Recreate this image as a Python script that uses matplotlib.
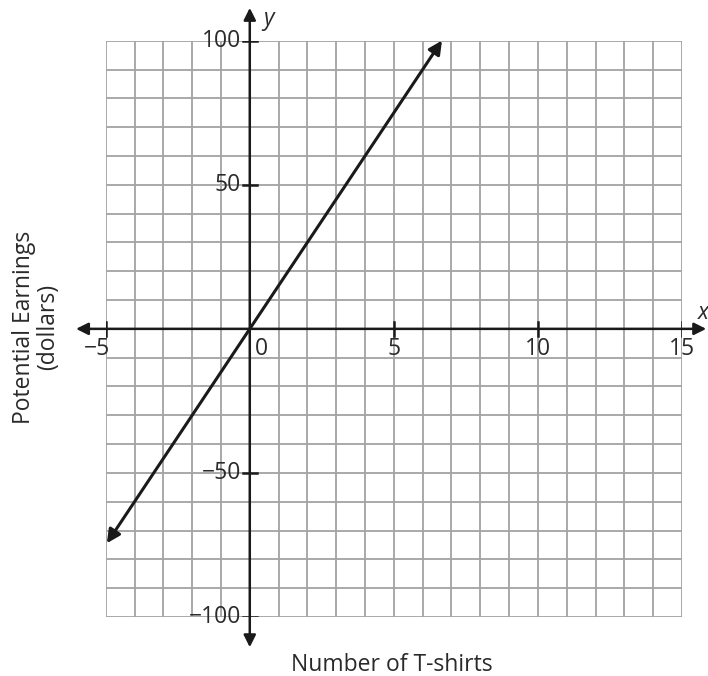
import matplotlib.pyplot as plt
import numpy as np

plt.rcParams['font.family'] = ['Open Sans', 'DejaVu Sans']

# earnings line: 15 dollars per T-shirt
rate = 15
x_start = -4.96
x_end = 6.67

x_ticks = [-5, 5, 10, 15]
x_tick_labels = ['\u22125', '5', '10', '15']
y_ticks = [100, 50, -50, -100]
y_tick_labels = ['100', '50', '\u221250', '\u2212100']

fig = plt.figure(figsize=(7.08, 6.76), dpi=100)
ax = fig.add_axes([105.7/708, 59/676, 576.3/708, 576.3/676])
ax.set_xlim(-5, 15)
ax.set_ylim(-100, 100)

# grid: one unit across, ten dollars up
grid_col = '#a3a3a3'
for gx in range(-5, 16):
    ax.axvline(gx, color=grid_col, lw=1.3, zorder=1)
for gy in range(-100, 101, 10):
    ax.axhline(gy, color=grid_col, lw=1.3, zorder=1)

for s in ax.spines.values():
    s.set_visible(False)
ax.set_xticks([])
ax.set_yticks([])

# axes with arrow heads
arr = dict(arrowstyle='<|-|>', color='#1a1a1a', lw=1.8, mutation_scale=18,
           shrinkA=0, shrinkB=0)
ax.annotate('', xy=(15.84, 0), xytext=(-6.03, 0), arrowprops=arr,
            annotation_clip=False, zorder=3)
ax.annotate('', xy=(0, 111.4), xytext=(0, -110.5), arrowprops=arr,
            annotation_clip=False, zorder=3)

# tick crosses
for t in x_ticks:
    ax.plot([t, t], [-2.4, 2.4], color='#1a1a1a', lw=1.8, zorder=3)
for t in y_ticks:
    ax.plot([-0.24, 0.24], [t, t], color='#1a1a1a', lw=1.8, zorder=3)

# tick labels
fs = 16.5
tc = '#2a2a2a'
for t, lab in zip(x_ticks, x_tick_labels):
    off = -0.3 if t < 0 else 0
    ax.text(t + off, -2.8, lab, ha='center', va='top', fontsize=fs, color=tc)
for t, lab in zip(y_ticks, y_tick_labels):
    ax.text(-0.3, t, lab, ha='right', va='center', fontsize=fs, color=tc)
ax.text(0.4, -2.8, '0', ha='center', va='top', fontsize=fs, color=tc)

# axis names
ax.text(15.75, 5.5, 'x', style='italic', fontsize=fs, color=tc, ha='center', va='center')
ax.text(0.65, 107.5, 'y', style='italic', fontsize=fs, color=tc, ha='center', va='center')

# the earnings line
ax.annotate('', xy=(x_end, rate*x_end), xytext=(x_start, rate*x_start),
            arrowprops=dict(arrowstyle='<|-|>', color='#1a1a1a', lw=2.2,
                            mutation_scale=20, shrinkA=0, shrinkB=0),
            annotation_clip=False, zorder=4)

fig.text(392/708, 1 - 665/676, 'Number of T-shirts', ha='center', va='center',
         fontsize=fs, color=tc)
fig.text(36/708, 1 - 327/676, 'Potential Earnings\n(dollars)', ha='center', va='center',
         rotation=90, fontsize=fs, color=tc, linespacing=1.05)

plt.savefig('out.png', dpi=100)
